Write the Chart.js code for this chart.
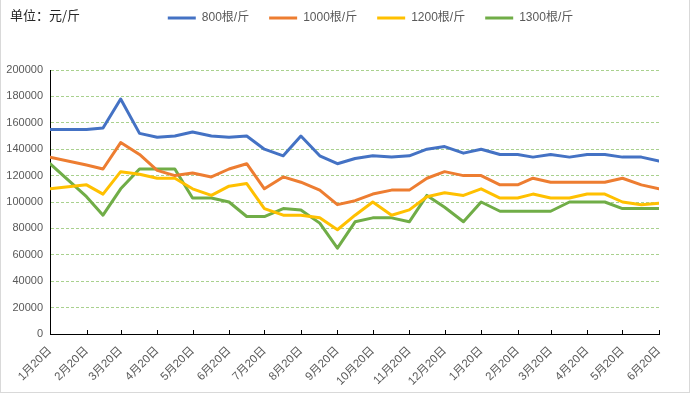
<!DOCTYPE html>
<html><head><meta charset="utf-8">
<script src="https://cdn.jsdelivr.net/npm/chart.js@4.4.1/dist/chart.umd.min.js"></script>
<style>
html,body{margin:0;padding:0;background:#fff;}
#wrap{position:relative;width:691px;height:394px;overflow:hidden;background:#fff;}
#unit{position:absolute;left:10px;top:6px;font:13px "Noto Sans CJK SC","Liberation Sans",sans-serif;color:#262626;line-height:18px;}
#frame{position:absolute;left:0;top:-1px;width:688px;height:392px;border:1px solid #d9d9d9;pointer-events:none;}
canvas{display:block;}
</style></head><body>
<div id="wrap"><canvas id="c" width="691" height="394"></canvas><div id="unit">单位：元/斤</div><div id="frame"></div></div>
<script>
// observation dates (semi-monthly)
const dates = ['2020-01-20','2020-02-20','2020-03-05','2020-03-20','2020-04-05','2020-04-20','2020-05-05','2020-05-20','2020-06-05','2020-06-20',
 '2020-07-05','2020-07-20','2020-08-05','2020-08-20','2020-09-05','2020-09-20','2020-10-05','2020-10-20','2020-11-05','2020-11-20','2020-12-05','2020-12-20',
 '2021-01-05','2021-01-20','2021-02-05','2021-02-20','2021-03-05','2021-03-20','2021-04-05','2021-04-20','2021-05-05','2021-05-20','2021-06-05','2021-06-20'];
const tickDates = ['2020-01-20','2020-02-20','2020-03-20','2020-04-20','2020-05-20','2020-06-20','2020-07-20','2020-08-20','2020-09-20','2020-10-20','2020-11-20','2020-12-20',
 '2021-01-20','2021-02-20','2021-03-20','2021-04-20','2021-05-20','2021-06-20'];
const tickLabels = ['1月20日','2月20日','3月20日','4月20日','5月20日','6月20日','7月20日','8月20日','9月20日','10月20日','11月20日','12月20日',
 '1月20日','2月20日','3月20日','4月20日','5月20日','6月20日'];
const seriesNames = ['800根/斤','1000根/斤','1200根/斤','1300根/斤'];
const s800  = [155000,155000,156000,178000,152000,149000,150000,153000,150000,149000,
 150000,140000,135000,150000,135000,129000,133000,135000,134000,135000,140000,142000,
 137000,140000,136000,136000,134000,136000,134000,136000,136000,134000,134000,131000];
const s1000 = [134000,128000,125000,145000,136000,124000,120000,122000,119000,125000,
 129000,110000,119000,115000,109000,98000,101000,106000,109000,109000,118000,123000,
 120000,120000,113000,113000,118000,115000,115000,115000,115000,118000,113000,110000];
const s1200 = [110000,113000,106000,123000,121000,118000,118000,110000,105000,112000,
 114000,95000,90000,90000,88000,79000,90000,100000,90000,94000,104000,107000,
 105000,110000,103000,103000,106000,103000,103000,106000,106000,100000,98000,99000];
const s1300 = [129000,104000,90000,110000,125000,125000,125000,103000,103000,100000,
 89000,89000,95000,94000,84000,65000,85000,88000,88000,85000,105000,96000,
 85000,100000,93000,93000,93000,93000,100000,100000,100000,95000,95000,95000];
const colors = ['#4472C4','#ED7D31','#FFC000','#70AD47'];

const day = s => { const [y,m,d] = s.split('-').map(Number); return Date.UTC(y, m-1, d) / 864e5; };
const allSeries = [s800, s1000, s1200, s1300];
const FONT = '"Liberation Sans","Noto Sans CJK SC",sans-serif';

const layoutFix = {
  id: 'layoutFix',
  beforeLayout(chart) {
    const lg = chart.legend;
    if (lg && !lg._patched) {
      const orig = lg.fit.bind(lg);
      lg.fit = function(){ orig(); this.height = 70; };
      lg._patched = true;
    }
  },
  afterLayout(chart) {
    const lg = chart.legend;
    lg.top -= 8; lg.bottom -= 8;
    lg.left += 41; lg.right += 41;
  },
  afterDatasetsDraw(chart) {
    const s = chart.scales.x, ctx = chart.ctx;
    ctx.save();
    ctx.strokeStyle = '#000'; ctx.lineWidth = 1;
    ctx.beginPath();
    s.ticks.forEach(t => {
      const x = Math.round(s.getPixelForValue(t.value)) + 0.5;
      ctx.moveTo(x, s.top); ctx.lineTo(x, s.top - 4);
    });
    ctx.stroke();
    ctx.restore();
  }
};

new Chart(document.getElementById('c'), {
  type: 'line',
  data: {
    datasets: allSeries.map((arr, k) => ({
      label: seriesNames[k],
      data: dates.map((d, i) => ({x: day(d), y: arr[i]})),
      borderColor: colors[k],
      backgroundColor: colors[k],
      borderWidth: 3,
      pointRadius: 0,
      tension: 0,
      borderJoinStyle: 'round',
      borderCapStyle: 'round',
      fill: false
    }))
  },
  options: {
    responsive: false,
    animation: false,
    devicePixelRatio: 1,
    layout: {padding: {top: 0, left: 0, right: 32, bottom: 0}},
    plugins: {
      tooltip: {enabled: false},
      legend: {
        position: 'top',
        labels: {
          usePointStyle: true, pointStyle: 'line', pointStyleWidth: 28,
          color: '#595959', font: {size: 12, family: FONT}, padding: 20
        }
      }
    },
    scales: {
      x: {
        type: 'linear', bounds: 'data',
        min: day(dates[0]), max: day(dates[dates.length-1]),
        afterBuildTicks: s => { s.ticks = tickDates.map(d => ({value: day(d)})); },
        afterFit: s => { s.height = 60; },
        ticks: {autoSkip: false, minRotation: 45, maxRotation: 45, color: '#595959',
          font: {size: 11.5, family: FONT}, padding: 10,
          callback: (v, i) => tickLabels[i]},
        grid: {display: true, drawOnChartArea: false, drawTicks: false},
        border: {display: true, color: '#000', width: 1}
      },
      y: {
        min: 0, max: 200000,
        afterFit: s => { s.width = 50; },
        ticks: {stepSize: 20000, color: '#595959', font: {size: 11, family: FONT}, padding: 7,
          callback: v => String(v)},
        grid: {color: c => (c.tick && c.tick.value === 0) ? 'rgba(0,0,0,0)' : '#A9D18E', drawTicks: false, lineWidth: 1},
        border: {display: true, color: '#000', width: 1, dash: [3, 2]}
      }
    }
  },
  plugins: [layoutFix]
});
</script>
</body></html>
